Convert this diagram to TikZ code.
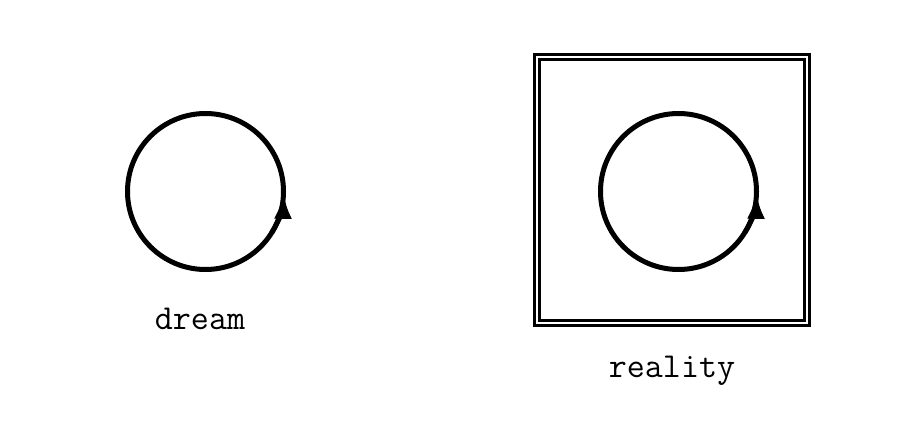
\documentclass[tikz,border=0pt]{standalone}
\usepackage{fontspec}
\usetikzlibrary{arrows.meta,positioning,fit,calc}
\tikzset{>=latex}
\tikzset{
	loop-circle/.style={draw=black, circle, line width=5pt, minimum size=156pt, inner sep=0pt, outer sep=0pt},
	loop-arrow/.style={line width=5pt, -{Latex[length=26pt, width=18pt]}},
	caption-text/.style={font=\fontsize{35}{40}\selectfont\ttfamily, anchor=base, inner sep=0pt}
}

\begin{document}
\begin{tikzpicture}[x=1pt, y=-1pt]

	\useasboundingbox (0,0) rectangle (914,427);

	\node (dream) [loop-circle] at (205.5,191.5) {};
	\draw[loop-arrow] (dream.-32) arc (-32:-1:78pt);
	\node (dream-text) [caption-text] at (200,330) {dream};

	\node (reality) [loop-circle] at (678.5,191.5) {};
	\draw[loop-arrow] (reality.-32) arc (-32:-1:78pt);
	\node (reality-box) [draw=black, line width=3pt, double, double distance=2pt, minimum width=270pt, minimum height=266pt, inner sep=0pt, outer sep=0pt] at (671.5,190.5) {};
	\node (reality-text) [caption-text] at (672,378) {reality};

\end{tikzpicture}
\end{document}
